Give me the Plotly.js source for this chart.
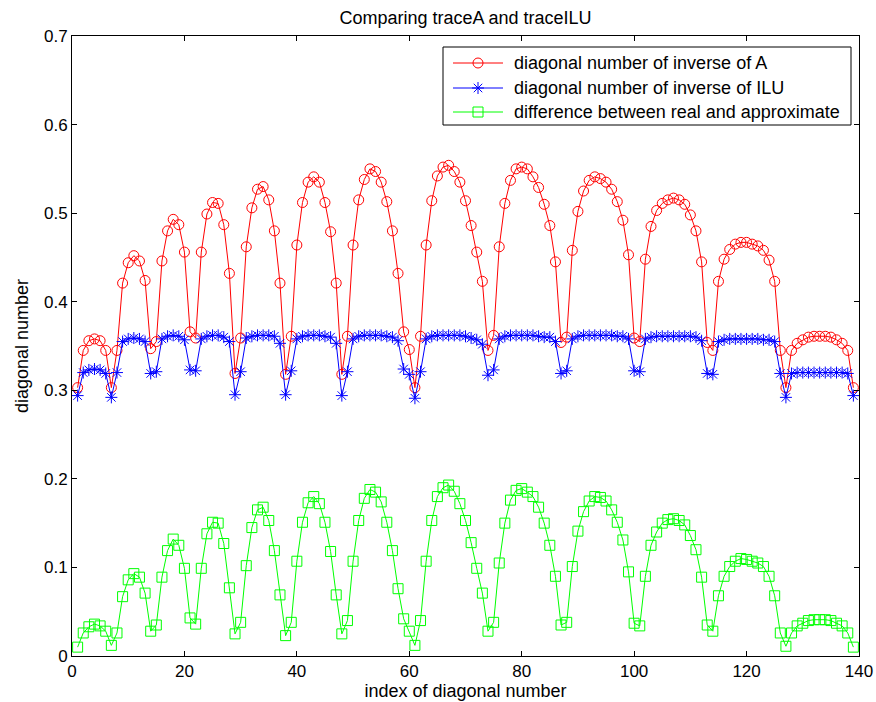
<!DOCTYPE html>
<html>
<head>
<meta charset="utf-8">
<script src="https://cdn.plot.ly/plotly-3.0.1.min.js"></script>
<style>
  html, body { margin: 0; padding: 0; background: #ffffff; }
  #chart { width: 876px; height: 702px; }
</style>
</head>
<body>
<div id="chart"></div>
<script>
// Diagonal entries of inv(A), of inv(ILU) and their difference, per index 1..139
const diagInvA = [
  0.303, 0.345, 0.356, 0.358, 0.356, 0.345, 0.303,
  0.345, 0.421, 0.444, 0.452, 0.446, 0.424, 0.347,
  0.355, 0.446, 0.480, 0.493, 0.487, 0.456, 0.366,
  0.359, 0.456, 0.499, 0.512, 0.511, 0.487, 0.432, 0.319,
  0.359, 0.462, 0.506, 0.527, 0.530, 0.515, 0.480, 0.421, 0.318,
  0.361, 0.464, 0.512, 0.535, 0.541, 0.535, 0.512, 0.479, 0.421, 0.318,
  0.361, 0.464, 0.515, 0.538, 0.550, 0.547, 0.535, 0.513, 0.480, 0.432, 0.366, 0.346, 0.303,
  0.361, 0.464, 0.514, 0.542, 0.552, 0.554, 0.547, 0.535, 0.514, 0.486, 0.456, 0.423, 0.345,
  0.362, 0.462, 0.511, 0.537, 0.550, 0.552, 0.550, 0.541, 0.529, 0.510, 0.486, 0.445, 0.354,
  0.360, 0.458, 0.502, 0.525, 0.537, 0.541, 0.539, 0.535, 0.527, 0.513, 0.492, 0.453, 0.359,
  0.355, 0.448, 0.485, 0.503, 0.511, 0.515, 0.517, 0.515, 0.510, 0.498, 0.480, 0.445, 0.354,
  0.345, 0.423, 0.448, 0.459, 0.465, 0.467, 0.467, 0.465, 0.463, 0.458, 0.447, 0.423, 0.345, 0.303,
  0.345, 0.353, 0.357, 0.360, 0.361, 0.361, 0.361, 0.360, 0.357, 0.353, 0.345, 0.303
];

const diagInvILU = [
  0.294, 0.320, 0.323, 0.324, 0.323, 0.319, 0.292,
  0.320, 0.355, 0.358, 0.359, 0.358, 0.355, 0.319,
  0.321, 0.358, 0.361, 0.362, 0.361, 0.357, 0.323,
  0.322, 0.358, 0.361, 0.362, 0.362, 0.360, 0.355, 0.295,
  0.321, 0.359, 0.361, 0.362, 0.362, 0.362, 0.361, 0.353, 0.295,
  0.322, 0.358, 0.361, 0.362, 0.362, 0.362, 0.361, 0.360, 0.353, 0.294,
  0.321, 0.358, 0.361, 0.362, 0.362, 0.362, 0.362, 0.361, 0.360, 0.356, 0.324, 0.318, 0.291,
  0.321, 0.358, 0.361, 0.362, 0.362, 0.362, 0.362, 0.362, 0.361, 0.359, 0.357, 0.352, 0.317,
  0.323, 0.358, 0.361, 0.362, 0.362, 0.362, 0.362, 0.362, 0.361, 0.360, 0.360, 0.355, 0.319,
  0.322, 0.358, 0.361, 0.362, 0.362, 0.362, 0.362, 0.362, 0.362, 0.361, 0.361, 0.358, 0.322,
  0.321, 0.358, 0.360, 0.361, 0.361, 0.361, 0.361, 0.361, 0.361, 0.361, 0.360, 0.356, 0.319,
  0.318, 0.355, 0.357, 0.358, 0.358, 0.358, 0.358, 0.358, 0.358, 0.357, 0.357, 0.355, 0.319, 0.292,
  0.319, 0.320, 0.320, 0.320, 0.320, 0.320, 0.320, 0.320, 0.320, 0.320, 0.319, 0.294
];

const diagDiff = [
  0.010, 0.026, 0.033, 0.036, 0.034, 0.028, 0.012,
  0.026, 0.067, 0.086, 0.093, 0.089, 0.071, 0.028,
  0.035, 0.089, 0.119, 0.132, 0.125, 0.099, 0.043,
  0.036, 0.099, 0.138, 0.151, 0.150, 0.127, 0.077, 0.025,
  0.038, 0.102, 0.145, 0.165, 0.168, 0.153, 0.119, 0.069, 0.023,
  0.038, 0.107, 0.151, 0.173, 0.180, 0.172, 0.151, 0.118, 0.069, 0.025,
  0.040, 0.107, 0.153, 0.178, 0.188, 0.185, 0.174, 0.151, 0.119, 0.076, 0.042, 0.028, 0.012,
  0.040, 0.107, 0.153, 0.180, 0.190, 0.193, 0.186, 0.172, 0.153, 0.128, 0.099, 0.071, 0.028,
  0.038, 0.105, 0.150, 0.176, 0.187, 0.189, 0.185, 0.180, 0.168, 0.150, 0.125, 0.090, 0.035,
  0.038, 0.101, 0.141, 0.163, 0.175, 0.180, 0.179, 0.175, 0.165, 0.151, 0.131, 0.095, 0.037,
  0.034, 0.090, 0.125, 0.140, 0.150, 0.154, 0.155, 0.153, 0.148, 0.136, 0.120, 0.089, 0.035,
  0.028, 0.068, 0.090, 0.101, 0.107, 0.110, 0.109, 0.107, 0.105, 0.101, 0.090, 0.068, 0.026, 0.011,
  0.026, 0.034, 0.037, 0.040, 0.041, 0.041, 0.041, 0.040, 0.037, 0.034, 0.026, 0.010
];

const seriesNames = [
  'diagonal number of inverse of A',
  'diagonal number of inverse of ILU',
  'difference between real and approximate'
];

// Row index of each diagonal entry (1-based)
const entryIndex = diagInvA.map((_, k) => k + 1);

const xTickVals = [0, 20, 40, 60, 80, 100, 120, 140];
const yTickVals = [0, 0.1, 0.2, 0.3, 0.4, 0.5, 0.6, 0.7];
const yTickText = ['0', '0.1', '0.2', '0.3', '0.4', '0.5', '0.6', '0.7'];

const FONT = 'Liberation Sans, Arial, Helvetica, sans-serif';

// Figure geometry (pixels)
const W = 876, H = 702;
const M = { l: 72, r: 17, t: 36, b: 46 };

const styles = [
  { color: '#ff0000', symbol: 'circle-open' },
  { color: '#0000ff', symbol: 'asterisk-open' },
  { color: '#00ff00', symbol: 'square-open' }
];
const seriesValues = [diagInvA, diagInvILU, diagDiff];

const traces = seriesValues.map((vals, k) => ({
  x: entryIndex, y: vals, type: 'scatter', mode: 'lines+markers',
  name: seriesNames[k], showlegend: false,
  line: { color: styles[k].color, width: 1 },
  marker: { symbol: styles[k].symbol, size: 10, color: styles[k].color, line: { width: 1 } }
}));

// Boxed legend, drawn on a hidden overlay axis pair measured in page pixels
const LEG = { left: 443, right: 851, top: 47, bottom: 125, rows: [63, 88, 112],
              lineX0: 453, lineX1: 503, textX: 512 };

seriesNames.forEach((name, k) => {
  const y = LEG.rows[k];
  traces.push({
    x: [LEG.lineX0, LEG.lineX1], y: [y, y], xaxis: 'x2', yaxis: 'y2',
    type: 'scatter', mode: 'lines', showlegend: false, hoverinfo: 'skip',
    line: { color: styles[k].color, width: 1 }
  });
  traces.push({
    x: [(LEG.lineX0 + LEG.lineX1) / 2], y: [y], xaxis: 'x2', yaxis: 'y2',
    type: 'scatter', mode: 'markers', showlegend: false, hoverinfo: 'skip',
    marker: { symbol: styles[k].symbol, size: 10, color: styles[k].color, line: { width: 1 } }
  });
});

const axisCommon = {
  ticks: 'inside', ticklen: 5, tickwidth: 1, tickcolor: '#000',
  showline: true, linecolor: '#000', linewidth: 1, mirror: 'ticks',
  showgrid: false, zeroline: false,
  tickfont: { family: FONT, size: 17, color: '#000' }
};

const layout = {
  width: W, height: H,
  margin: M,
  paper_bgcolor: '#ffffff', plot_bgcolor: '#ffffff',
  font: { family: FONT, color: '#000', size: 16 },
  showlegend: false,
  title: {
    text: 'Comparing traceA and traceILU',
    font: { family: FONT, size: 18, color: '#000' },
    x: 0.5, xref: 'paper', xanchor: 'center',
    y: 1 - 18 / H, yref: 'container', yanchor: 'middle'
  },
  xaxis: Object.assign({}, axisCommon, {
    range: [0, 140], tickmode: 'array', tickvals: xTickVals,
    title: { text: 'index of diagonal number', font: { family: FONT, size: 18, color: '#000' }, standoff: 3 }
  }),
  yaxis: Object.assign({}, axisCommon, {
    range: [0, 0.7], tickmode: 'array', tickvals: yTickVals, ticktext: yTickText,
    title: { text: 'diagonal number', font: { family: FONT, size: 18, color: '#000' }, standoff: 10 }
  }),
  xaxis2: { overlaying: 'x', range: [M.l, W - M.r], visible: false, fixedrange: true },
  yaxis2: { overlaying: 'y', range: [H - M.b, M.t], visible: false, fixedrange: true },
  shapes: [{
    type: 'rect', xref: 'x2', yref: 'y2', layer: 'below',
    x0: LEG.left, x1: LEG.right, y0: LEG.top, y1: LEG.bottom,
    line: { color: '#000', width: 1 }, fillcolor: '#ffffff'
  }],
  annotations: seriesNames.map((name, k) => ({
    text: name, xref: 'x2', yref: 'y2', x: LEG.textX, y: LEG.rows[k],
    xanchor: 'left', yanchor: 'middle', showarrow: false,
    font: { family: FONT, size: 18, color: '#000' }
  }))
};

Plotly.newPlot('chart', traces, layout, { displayModeBar: false, staticPlot: true });
</script>
</body>
</html>
